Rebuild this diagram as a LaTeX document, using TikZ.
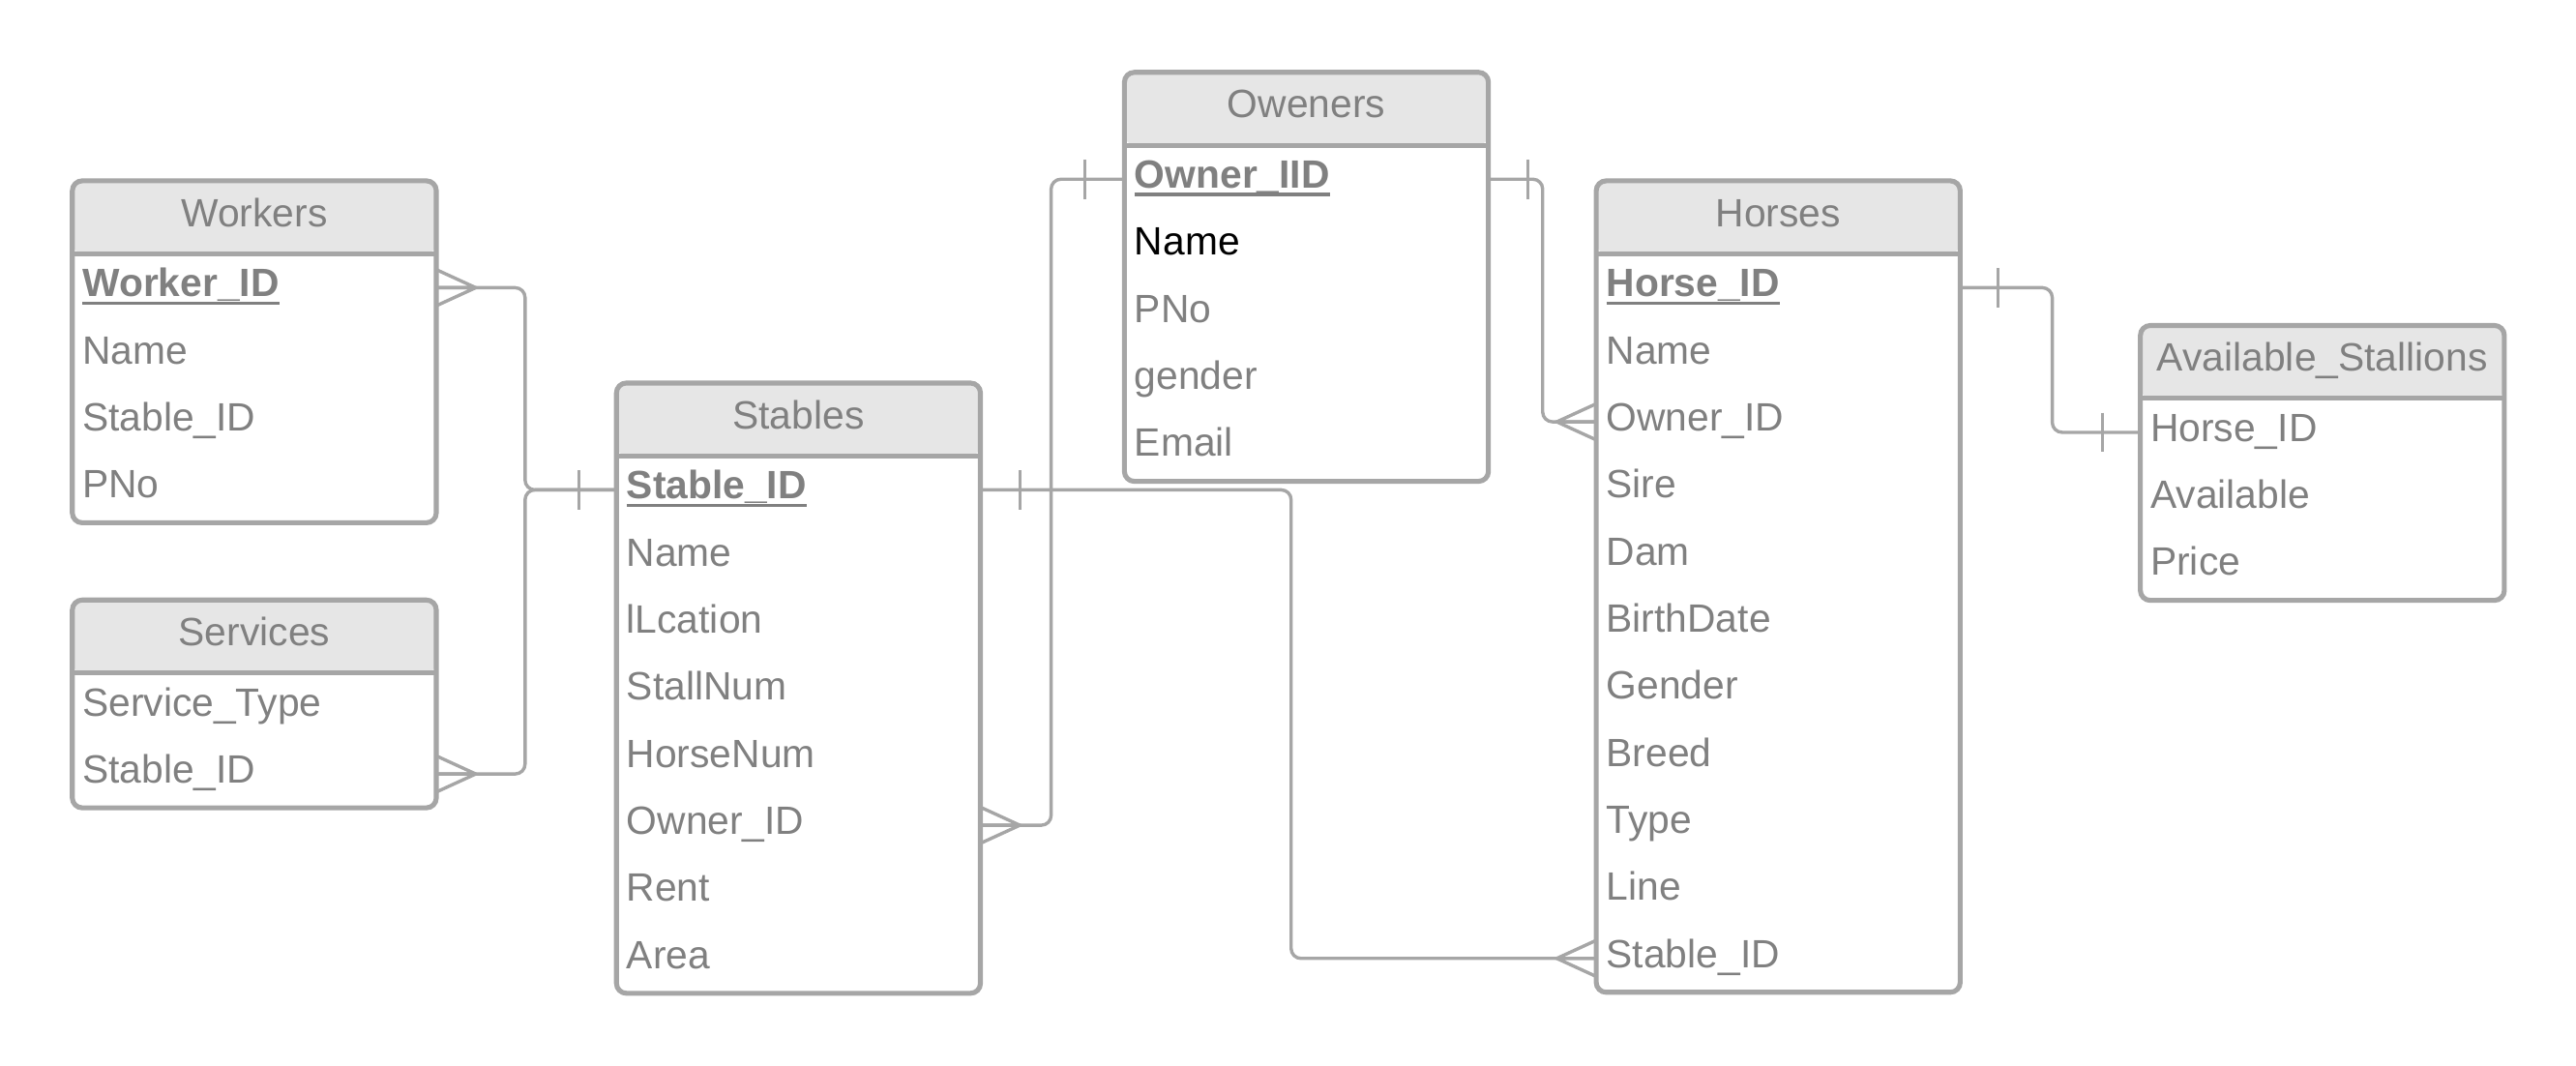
\documentclass[tikz,border=0pt]{standalone}
\usepackage{fontspec}
\setmainfont{Liberation Sans}
\usetikzlibrary{positioning}
\definecolor{txtgray}{RGB}{128,128,128}
\definecolor{linegray}{RGB}{166,166,166}
\definecolor{headgray}{RGB}{230,230,230}
\tikzset{
  tabhead/.style={anchor=north west, fill=headgray, rounded corners=6pt, minimum width=221pt,
    minimum height=44pt, inner sep=0pt, text height=17pt, text depth=6pt},
  tabrow/.style={anchor=north, minimum width=221pt, text width=209pt, align=left, inner xsep=6pt,
    inner ysep=0pt, minimum height=40.8pt, text height=16pt, text depth=5pt},
  boxline/.style={draw=linegray, line width=3pt, rounded corners=6pt},
  link/.style={draw=linegray, line width=2pt, rounded corners=6pt},
  many/.pic={\draw[link, sharp corners] (0,-11) -- (24,0) -- (0,11) (0,0) -- (24,0);},
  one/.pic={\draw[link] (0,-12) -- (0,12);}
}
\newcommand{\pkey}[1]{\setbox0\hbox{\textbf{#1}}\rlap{\rule[-5pt]{\wd0}{2.2pt}}\box0}
% name, top left corner, title, number of rows, rows
\newcommand{\erbox}[5]{%
  \node[tabhead] (#1) at (#2) {#3};
  \foreach \f [count=\i] in {#5}
    \node[tabrow, yshift={-(\i-1)*40.8pt}] (#1-\i) at (#1.south) {\f};
  \draw[boxline] (#1.north west) rectangle (#1-#4.south east);
  \draw[boxline] (#1.south west) -- (#1.south east);
}

\begin{document}
\begin{tikzpicture}[x=1pt, y=-1pt, every node/.style={font=\fontsize{24pt}{28pt}\selectfont, text=txtgray}]
  \useasboundingbox (0,0) rectangle (1567,647.9);
  \erbox{workers}{44,110}{Workers}{4}{\pkey{Worker\_ID}, Name, Stable\_ID, PNo}
  \erbox{services}{44,365}{Services}{2}{Service\_Type, Stable\_ID}
  \erbox{stables}{375,233}{Stables}{8}{\pkey{Stable\_ID}, Name, lLcation, StallNum, HorseNum, Owner\_ID, Rent, Area}
  \erbox{owners}{684,44}{Oweners}{5}{\pkey{Owner\_IID}, {\color{black}Name}, PNo, gender, Email}
  \erbox{horses}{971,110}{Horses}{11}{\pkey{Horse\_ID}, Name, Owner\_ID, Sire, Dam, BirthDate, Gender, Breed, Type, Line, Stable\_ID}
  \erbox{avail}{1302,198}{Available\_Stallions}{3}{Horse\_ID, Available, Price}

  % relations
  \draw[link] (workers-1.east) -- ++(54,0) |- (stables-1.west);
  \draw[link] (services-2.east) -- ++(54,0) |- (stables-1.west);
  \draw[link] (stables-6.east) -- ++(43,0) |- (owners-1.west);
  \draw[link] (owners-1.east) -- ++(33,0) |- (horses-3.west);
  \draw[link] (stables-1.east) -- ++(189,0) |- (horses-11.west);
  \draw[link] (horses-1.east) -- ++(56,0) |- (avail-1.west);

  % crow's feet and bars
  \pic at (workers-1.east) {many};
  \pic at (services-2.east) {many};
  \pic at (stables-6.east) {many};
  \pic[xscale=-1] at (horses-3.west) {many};
  \pic[xscale=-1] at (horses-11.west) {many};
  \pic at ([xshift=-23pt]stables-1.west) {one};
  \pic at ([xshift=-24pt]owners-1.west) {one};
  \pic at ([xshift=24pt]owners-1.east) {one};
  \pic at ([xshift=24pt]stables-1.east) {one};
  \pic at ([xshift=23pt]horses-1.east) {one};
  \pic at ([xshift=-23pt]avail-1.west) {one};
\end{tikzpicture}
\end{document}
